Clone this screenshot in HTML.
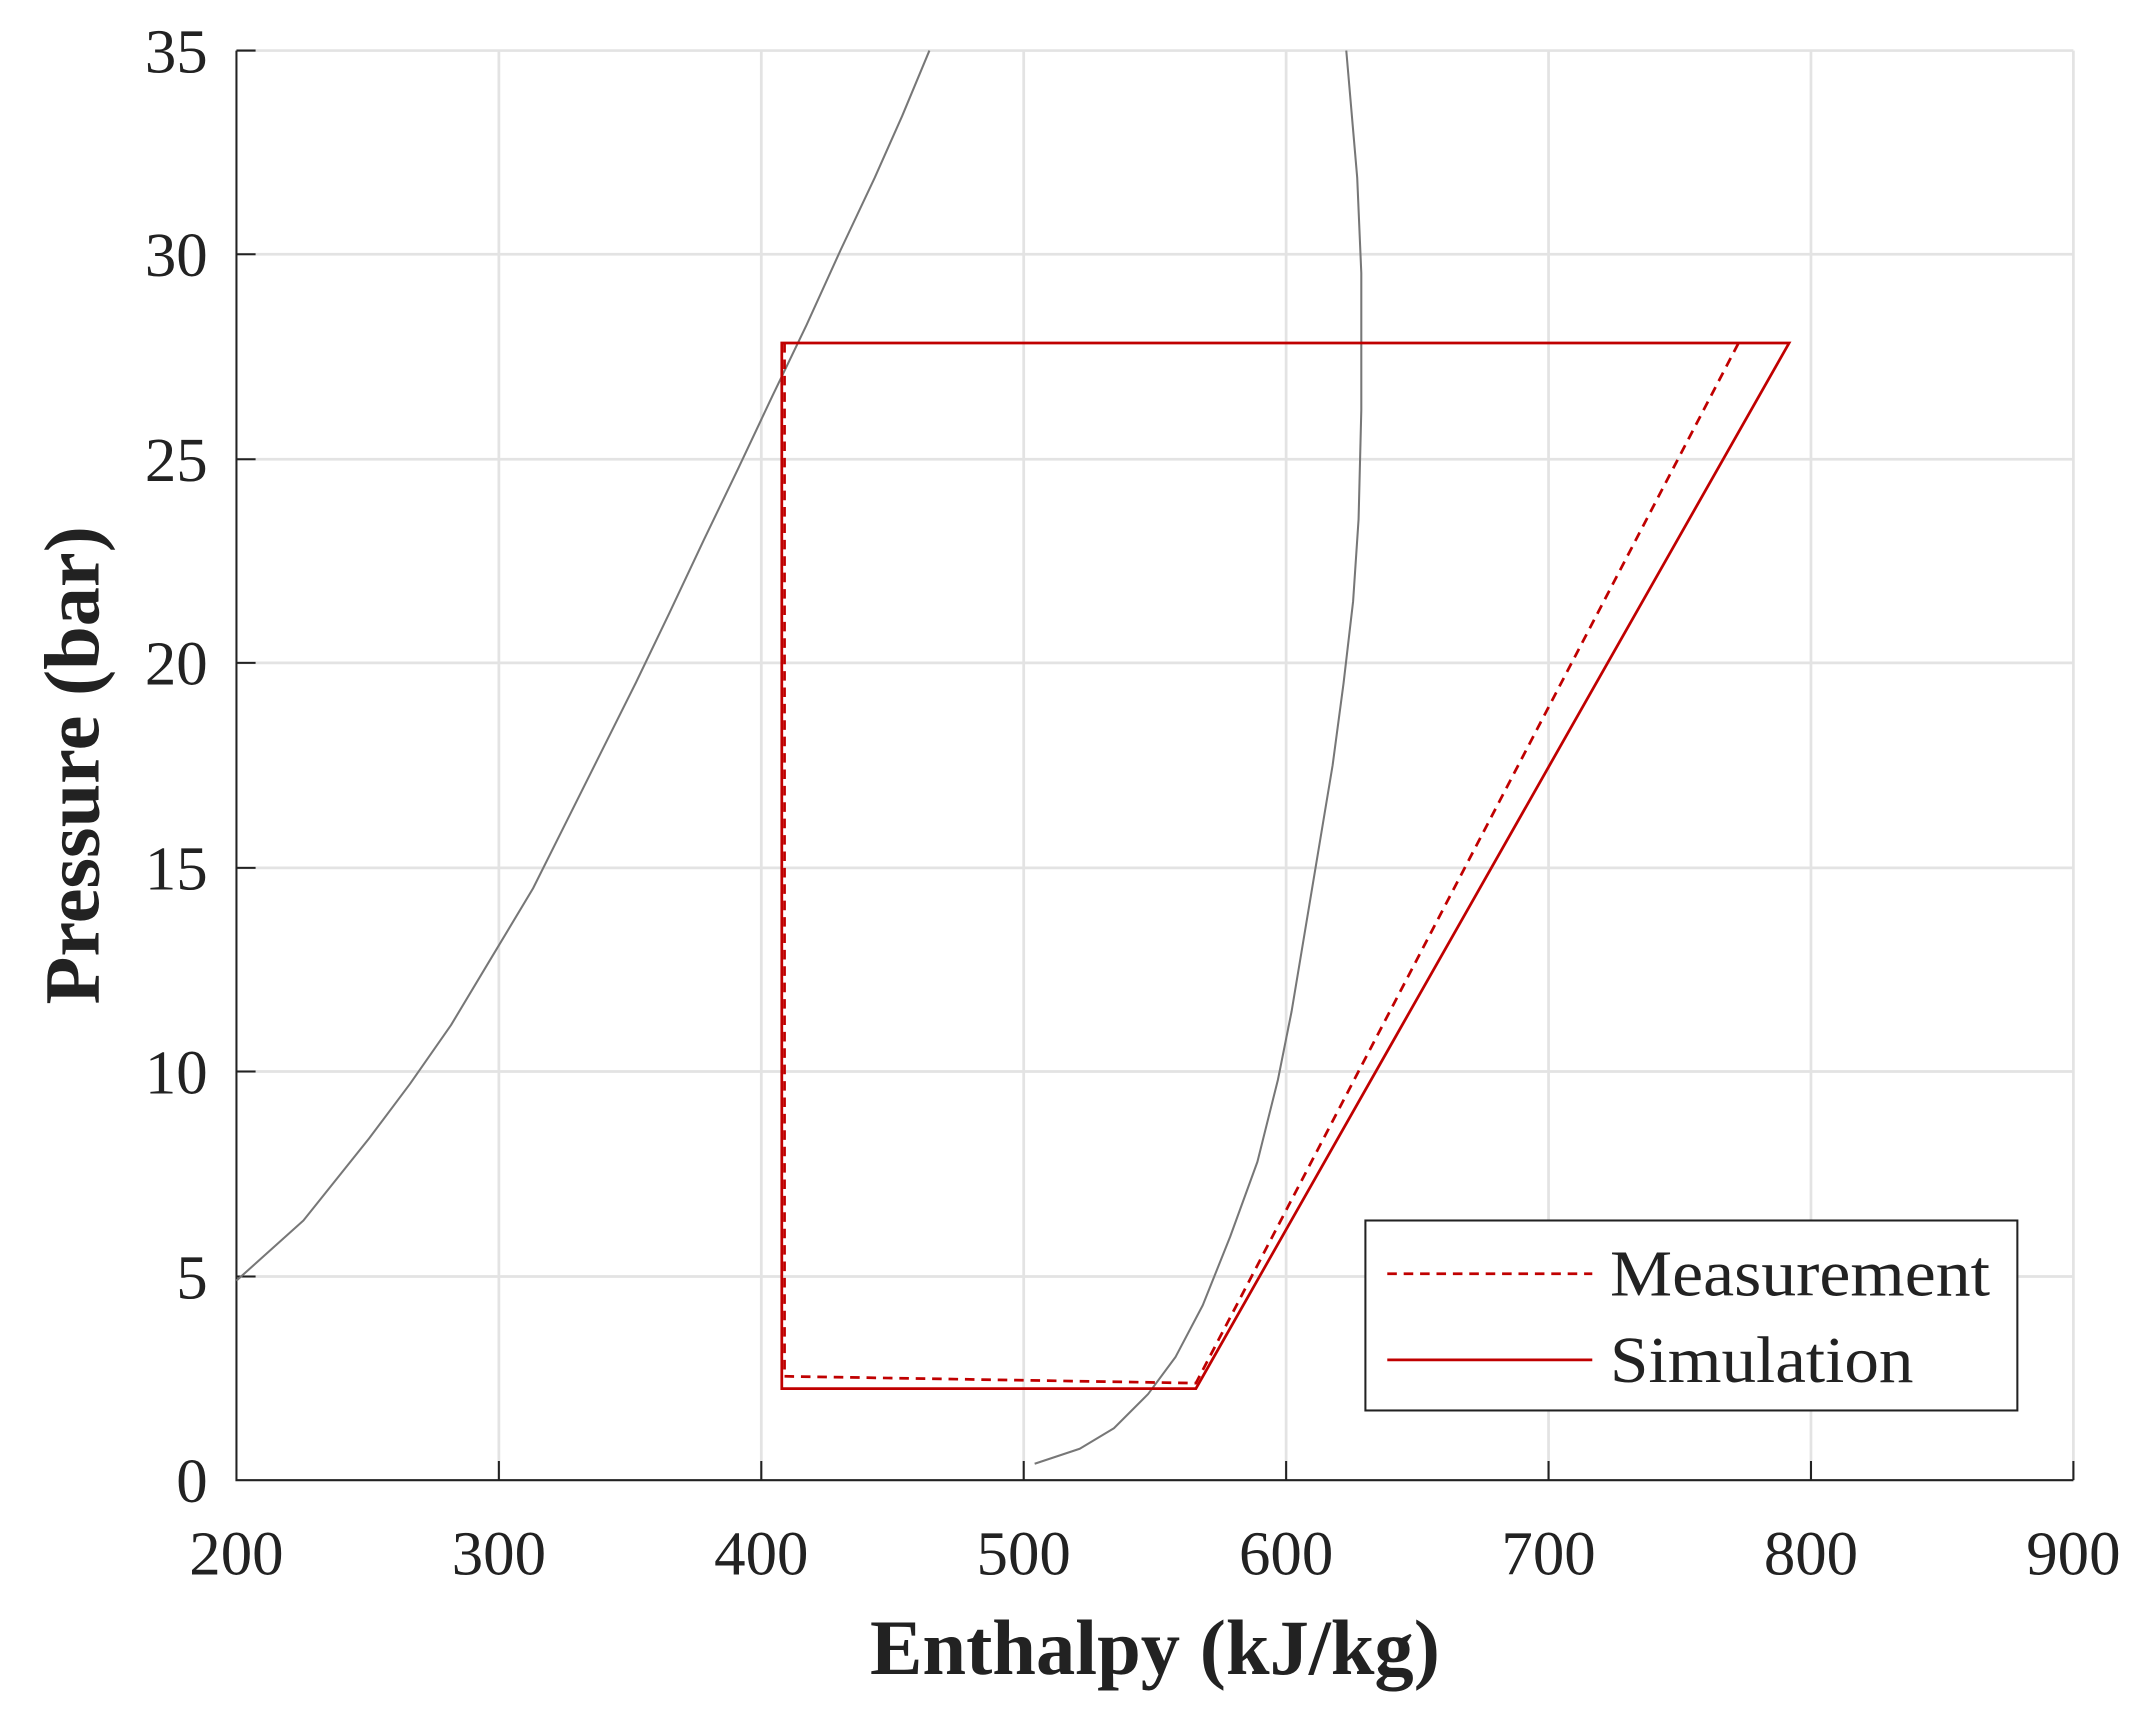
<!DOCTYPE html>
<html><head><style>html,body{margin:0;padding:0;background:#fff;}svg{display:block}</style></head>
<body>
<svg width="2139" height="1724" viewBox="0 0 1565 1261.4" preserveAspectRatio="none" xmlns="http://www.w3.org/2000/svg" font-family="Liberation Serif, serif">
<g stroke="#e3e3e3" stroke-width="2">
<line x1="365" y1="37" x2="365" y2="1083"/><line x1="557" y1="37" x2="557" y2="1083"/><line x1="749" y1="37" x2="749" y2="1083"/><line x1="941" y1="37" x2="941" y2="1083"/><line x1="1133" y1="37" x2="1133" y2="1083"/><line x1="1325" y1="37" x2="1325" y2="1083"/><line x1="1517" y1="37" x2="1517" y2="1083"/>
<line x1="173" y1="37" x2="1517" y2="37"/><line x1="173" y1="186" x2="1517" y2="186"/><line x1="173" y1="336" x2="1517" y2="336"/><line x1="173" y1="485" x2="1517" y2="485"/><line x1="173" y1="635" x2="1517" y2="635"/><line x1="173" y1="784" x2="1517" y2="784"/><line x1="173" y1="934" x2="1517" y2="934"/>
</g>
<g stroke="#222" stroke-width="1.5" fill="none">
<path d="M173,37 V1083 H1517"/>
<path d="M365,1083v-14M557,1083v-14M749,1083v-14M941,1083v-14M1133,1083v-14M1325,1083v-14M1517,1083v-14"/>
<path d="M173,37h14M173,186h14M173,336h14M173,485h14M173,635h14M173,784h14M173,934h14"/>
</g>
<g stroke="#777" stroke-width="1.5" fill="none" stroke-linejoin="round">
<polyline points="173,937 222,893 270,833 300,793 330,750 360,700 390,650 415,600 440,550 465,500 490,448 515,395 540,343 565,290 590,238 615,183 640,130 660,85 680,37"/>
<polyline points="757,1071 790,1060 815,1045 840,1020 860,993 880,955 900,905 920,850 935,790 945,740 955,680 965,620 975,560 983,500 990,440 994,380 996,300 996,200 993,130 985,37"/>
</g>
<g stroke="#c00000" stroke-width="2" fill="none">
<path d="M572,251 H1309 L875,1016 H572 Z"/>
<path d="M574,251 V1007 L875,1012 L1272,251" stroke-dasharray="7,5"/>
</g>
<rect x="999" y="893" width="477" height="139" fill="#fff" stroke="#222" stroke-width="1.5"/>
<line x1="1015" y1="932" x2="1165" y2="932" stroke="#c00000" stroke-width="2" stroke-dasharray="7,5"/>
<line x1="1015" y1="995" x2="1165" y2="995" stroke="#c00000" stroke-width="2"/>
<g font-size="48" fill="#222">
<text x="1178" y="948" textLength="278" lengthAdjust="spacingAndGlyphs">Measurement</text>
<text x="1178" y="1011" textLength="222" lengthAdjust="spacingAndGlyphs">Simulation</text>
</g>
<g font-size="46" fill="#222" text-anchor="middle">
<text x="173" y="1152">200</text><text x="365" y="1152">300</text><text x="557" y="1152">400</text><text x="749" y="1152">500</text><text x="941" y="1152">600</text><text x="1133" y="1152">700</text><text x="1325" y="1152">800</text><text x="1517" y="1152">900</text>
</g>
<g font-size="46" fill="#222" text-anchor="end">
<text x="152" y="53">35</text><text x="152" y="202">30</text><text x="152" y="352">25</text><text x="152" y="501">20</text><text x="152" y="651">15</text><text x="152" y="800">10</text><text x="152" y="950">5</text><text x="152" y="1099">0</text>
</g>
<text x="845" y="1225" font-size="57" font-weight="bold" fill="#222" text-anchor="middle" textLength="417" lengthAdjust="spacingAndGlyphs">Enthalpy (kJ/kg)</text>
<text transform="translate(72,560) rotate(-90)" font-size="57" font-weight="bold" fill="#222" text-anchor="middle" textLength="350" lengthAdjust="spacingAndGlyphs">Pressure (bar)</text>
</svg>
</body></html>
